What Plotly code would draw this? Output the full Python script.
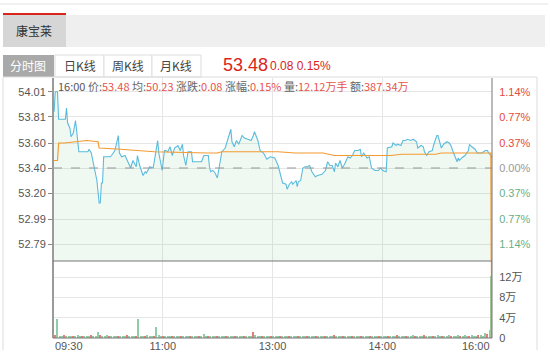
import plotly.graph_objects as go

# ---------------- data ----------------
stock_name = "康宝莱"
prev_close = 53.40
last_price = 53.48
change_abs = "0.08"
change_pct = "0.15%"
avg_last = "50.23"
vol_text = "12.12万手"
amt_text = "387.34万"

time_labels = ["09:30", "11:00", "13:00", "14:00", "16:00"]
price_tick_vals = [54.01, 53.81, 53.60, 53.40, 53.20, 52.99, 52.79]
price_tick_text = ["54.01", "53.81", "53.60", "53.40", "53.20", "52.99", "52.79"]
pct_tick_text = ["1.14%", "0.77%", "0.37%", "0.00%", "0.37%", "0.77%", "1.14%"]
vol_tick_vals = [0, 4, 8, 12]
vol_tick_text = ["0", "4万", "8万", "12万"]

price_t = [1, 2, 4, 5, 11, 12, 13, 15, 16, 18, 20, 21, 22, 23, 31, 32, 34, 36, 39, 41, 42, 43, 44, 45,
           51, 52, 55, 58, 59, 61, 64, 67, 69, 71, 74, 75, 77, 80, 82, 83, 86, 89, 91, 93, 94, 97, 99,
           100, 102, 104, 106, 108, 111, 113, 115, 116, 118, 120, 123, 124, 129, 132, 134, 138, 139, 140,
           142, 144, 146, 147, 150, 153, 155, 156, 158, 159, 161, 163, 165, 168, 170, 173, 176, 178, 179,
           182, 184, 187, 190, 193, 197, 200, 202, 204, 207, 208, 210, 212, 213, 216, 217, 218, 220, 222,
           224, 226, 228, 230, 233, 235, 239, 242, 244, 246, 248, 250, 251, 253, 255, 257, 259, 262, 264,
           266, 268, 271, 273, 274, 276, 279, 281, 283, 286, 289, 291, 293, 296, 297, 301, 302, 305, 306,
           309, 311, 313, 315, 318, 320, 323, 324, 327, 329, 330, 332, 334, 337, 338, 341, 342, 344, 345,
           347, 350, 352, 354, 355, 357, 359, 360, 361, 363, 366, 369, 370, 372, 375, 377, 381, 384, 386,
           387, 389, 390]
price_v = [53.85, 54.01, 54.01, 53.79, 53.79, 53.88, 53.76, 53.72, 53.65, 53.68, 53.78, 53.68, 53.61, 53.53,
           53.53, 53.55, 53.52, 53.42, 53.30, 53.12, 53.12, 53.28, 53.28, 53.49,
           53.49, 53.50, 53.54, 53.66, 53.52, 53.49, 53.50, 53.44, 53.40, 53.46, 53.41, 53.50, 53.42, 53.34,
           53.37, 53.36, 53.41, 53.40, 53.53, 53.62, 53.52, 53.38, 53.54,
           53.54, 53.53, 53.57, 53.50, 53.56, 53.58, 53.54, 53.59, 53.50, 53.42, 53.53, 53.53, 53.45, 53.45,
           53.45, 53.50, 53.50, 53.41, 53.37,
           53.38, 53.36, 53.32, 53.37, 53.53, 53.56, 53.62, 53.63, 53.71, 53.61, 53.57, 53.62, 53.59, 53.66,
           53.64, 53.63, 53.62, 53.66, 53.69,
           53.62, 53.54, 53.52, 53.47, 53.49, 53.48, 53.42, 53.34, 53.28, 53.27, 53.23, 53.27, 53.29, 53.27,
           53.30, 53.25, 53.29, 53.30, 53.40,
           53.41, 53.41, 53.42, 53.37, 53.33, 53.34, 53.35, 53.38, 53.45, 53.42, 53.42, 53.37, 53.44, 53.41,
           53.46, 53.40, 53.43, 53.49, 53.48,
           53.50, 53.54, 53.54, 53.55, 53.49, 53.52, 53.48, 53.49, 53.40, 53.38, 53.38, 53.40, 53.38, 53.37,
           53.56, 53.57, 53.60, 53.58, 53.59,
           53.58, 53.62, 53.62, 53.63, 53.62, 53.63, 53.61, 53.56, 53.58, 53.57, 53.53, 53.50, 53.53, 53.54,
           53.58, 53.66, 53.66, 53.58, 53.56,
           53.59, 53.61, 53.60, 53.57, 53.54, 53.50, 53.45, 53.48, 53.46, 53.48, 53.50, 53.54, 53.59, 53.57,
           53.55, 53.52, 53.52, 53.54, 53.54,
           53.52, 53.50, 53.48]

avg_t = [0, 4, 5, 10, 20, 30, 40, 41, 60, 77, 90, 137, 146, 150, 200, 215, 240, 250, 300, 310, 340, 345, 389, 390]
avg_v = [53.46, 53.46, 53.60, 53.60, 53.61, 53.62, 53.61, 53.56, 53.55, 53.54, 53.53, 53.52, 53.52, 53.53,
         53.53, 53.52, 53.52, 53.50, 53.50, 53.51, 53.51, 53.52, 53.52, 50.23]

vol_t = list(range(0, 390, 2)) + [389]
vol_v = [0.3, 0.5, 3.7, 0.4, 0.3, 0.5, 0.3, 0.4, 0.2, 0.4,
         0.3, 0.5, 0.3, 0.2, 0.4, 0.3, 0.3, 0.5, 0.4, 0.3,
         1.2, 0.6, 0.4, 0.3, 0.5, 0.3, 0.4, 0.3, 0.2, 0.4,
         0.3, 0.4, 0.3, 0.5, 0.3, 0.4, 0.3, 0.4, 3.8, 0.3,
         0.4, 0.3, 0.5, 0.3, 0.4, 0.3, 2.2, 0.5, 0.3, 0.2,
         0.4, 0.3, 0.3, 0.4, 0.2, 0.3, 0.4, 0.3, 0.3, 0.2,
         0.3, 0.4, 0.3, 0.2, 0.3, 0.4, 0.3, 0.8, 0.4, 0.3,
         0.3, 0.2, 0.4, 0.3, 0.3, 0.2, 0.3, 0.4, 0.3, 0.3,
         0.2, 0.3, 0.4, 0.3, 0.3, 0.2, 0.4, 0.3, 0.3, 1.1,
         0.5, 0.3, 0.4, 0.3, 0.2, 0.3, 0.3, 0.4, 0.3, 0.2,
         0.3, 0.3, 0.2, 0.4, 0.3, 0.3, 0.2, 0.3, 0.4, 0.3,
         0.3, 0.2, 0.3, 0.3, 0.4, 0.2, 0.3, 0.3, 0.2, 0.4,
         0.3, 0.3, 0.2, 0.3, 0.4, 0.5, 0.3, 0.2, 0.3, 0.3,
         0.4, 0.3, 0.2, 0.3, 0.3, 0.4, 0.3, 0.3, 0.2, 0.3,
         0.3, 0.4, 0.3, 0.2, 0.3, 0.3, 0.4, 0.3, 0.3, 0.2,
         0.4, 0.3, 0.3, 0.5, 0.3, 0.4, 0.3, 0.3, 0.4, 0.3,
         0.5, 0.3, 0.4, 0.3, 0.4, 0.5, 0.3, 0.4, 0.3, 0.4,
         0.3, 0.5, 0.4, 0.3, 0.4, 0.3, 0.5, 0.4, 0.3, 0.4,
         0.5, 0.3, 0.4, 0.6, 0.3, 0.4, 0.5, 0.4, 0.3, 0.5,
         0.6, 0.4, 0.9, 0.7, 1.5, 12.2]

# ---------------- styling / layout ----------------
W, H = 550, 356
L, R, T, B = 53, 492, 78, 338   # plot area in pixels
SPLIT = 261                      # divider between price and volume panes
X_MAX = 390

def PX(x):
    return (x - L) / (R - L)

def PY(y):
    return (B - y) / (B - T)

FONT = "Liberation Sans, Arial, Noto Sans CJK SC"
CJK = "Noto Sans CJK SC, Liberation Sans"
RED = "#e4493e"
GREEN = "#68b088"
GRID = "#e6e6e6"
NOCOL = "rgba(0,0,0,0)"

p_lo = prev_close - (SPLIT - 168) * 0.008
p_hi = prev_close + (168 - T) * 0.008
v_hi = 12 * (B - SPLIT) / (B - 277)
split_dom = PY(SPLIT)
tick_pos = [X_MAX / 4, X_MAX / 2, 3 * X_MAX / 4]

vol_colors = ["#ec7a72" if i % 4 == 1 else "#8fcda9" for i in range(len(vol_v))]

fig = go.Figure()
fig.add_trace(go.Scatter(x=price_t, y=price_v, mode="lines", line=dict(color="#5bbbdd", width=1.1),
                         fill="tozeroy", fillcolor="rgba(120,190,140,0.11)", xaxis="x", yaxis="y",
                         hoverinfo="skip"))
fig.add_trace(go.Scatter(x=avg_t, y=avg_v, mode="lines", line=dict(color="#f39a30", width=1.2),
                         xaxis="x", yaxis="y", hoverinfo="skip"))
fig.add_trace(go.Bar(x=vol_t, y=vol_v, marker=dict(color=vol_colors, line=dict(width=0)), width=1.3,
                     xaxis="x2", yaxis="y2", hoverinfo="skip"))
# invisible trace to activate right percentage axis
fig.add_trace(go.Scatter(x=[price_t[0]], y=[price_v[0]], mode="lines", line=dict(width=0),
                         xaxis="x", yaxis="y3", hoverinfo="skip", showlegend=False))

pct_colored = []
for i, t in enumerate(pct_tick_text):
    v = price_tick_vals[i]
    c = RED if v > prev_close else ("#999999" if v == prev_close else GREEN)
    pct_colored.append(f'<span style="color:{c}">{t}</span>')

fig.update_layout(
    width=W, height=H, showlegend=False, bargap=0,
    paper_bgcolor="white", plot_bgcolor="white",
    margin=dict(l=L, r=W - R, t=T, b=H - B, pad=0, autoexpand=False),
    font=dict(family=FONT, size=11, color="#555"),
    xaxis=dict(domain=[0, 1], anchor="y", range=[0, X_MAX], tickvals=tick_pos, showticklabels=False,
               showgrid=True, gridcolor=GRID, gridwidth=1, zeroline=False, showline=False, ticks="",
               automargin=False),
    yaxis=dict(domain=[split_dom, 1], anchor="x", range=[p_lo, p_hi], tickvals=price_tick_vals,
               ticktext=price_tick_text, ticks="outside", ticklen=4, tickcolor="#888",
               showgrid=True, gridcolor=GRID, zeroline=False, showline=False, automargin=False,
               tickfont=dict(size=11, color="#555")),
    yaxis3=dict(overlaying="y", side="right", anchor="x", range=[p_lo, p_hi], tickvals=price_tick_vals,
                ticktext=pct_colored, showgrid=False, zeroline=False, showline=False,
                ticks="outside", ticklen=4, tickcolor=NOCOL,
                automargin=False, tickfont=dict(size=11)),
    xaxis2=dict(domain=[0, 1], anchor="y2", range=[0, X_MAX], tickvals=tick_pos,
                ticktext=time_labels[1:4], showgrid=True, gridcolor=GRID, zeroline=False, showline=False,
                ticks="", automargin=False, tickfont=dict(size=11, color="#555")),
    yaxis2=dict(domain=[0, split_dom], anchor="x2", side="right", range=[0, v_hi], tickvals=vol_tick_vals,
                ticktext=vol_tick_text, showgrid=True, gridcolor=GRID, zeroline=False, showline=False,
                ticks="outside", ticklen=4, tickcolor=NOCOL,
                automargin=False, tickfont=dict(size=11, color="#555")),
)

shapes = []
# header decorations
shapes.append(dict(type="line", xref="paper", yref="paper", x0=PX(0), x1=PX(548), y0=PY(4), y1=PY(4),
                   line=dict(color="#e3e3e3", width=1)))
shapes.append(dict(type="rect", xref="paper", yref="paper", x0=PX(66), x1=PX(545), y0=PY(47), y1=PY(15),
                   fillcolor="#efefef", line=dict(width=0)))
shapes.append(dict(type="rect", xref="paper", yref="paper", x0=PX(3), x1=PX(66), y0=PY(47), y1=PY(15),
                   fillcolor="#d6d6d6", line=dict(width=0)))
shapes.append(dict(type="rect", xref="paper", yref="paper", x0=PX(3), x1=PX(66), y0=PY(15), y1=PY(13),
                   fillcolor="#d9251c", line=dict(width=0)))
# buttons
shapes.append(dict(type="rect", xref="paper", yref="paper", x0=PX(3), x1=PX(54), y0=PY(77), y1=PY(55),
                   fillcolor="#a9a9a9", line=dict(width=0)))
for bx0, bx1 in [(55, 104), (104, 152), (152, 201)]:
    shapes.append(dict(type="rect", xref="paper", yref="paper", x0=PX(bx0), x1=PX(bx1), y0=PY(77), y1=PY(55),
                       fillcolor="white", line=dict(color="#dddddd", width=1)))
# outer frame
shapes.append(dict(type="line", xref="paper", yref="paper", x0=PX(3), x1=PX(537), y0=PY(77), y1=PY(77),
                   line=dict(color="#dddddd", width=1)))
shapes.append(dict(type="line", xref="paper", yref="paper", x0=PX(3), x1=PX(3), y0=PY(77), y1=PY(350),
                   line=dict(color="#dddddd", width=1)))
shapes.append(dict(type="line", xref="paper", yref="paper", x0=PX(537), x1=PX(537), y0=PY(77), y1=PY(350),
                   line=dict(color="#dddddd", width=1)))
# previous close dashed line
shapes.append(dict(type="line", xref="x", yref="y", x0=0, x1=X_MAX, y0=prev_close, y1=prev_close,
                   line=dict(color="#999999", width=1, dash="dash")))
# average line continues into volume pane at last point
shapes.append(dict(type="line", xref="x2", yref="y2 domain", x0=avg_t[-1] - 0.5, x1=avg_t[-1] - 0.5,
                   y0=0, y1=1, line=dict(color="#f39a30", width=1.2)))
# axis frame lines
shapes.append(dict(type="line", xref="paper", yref="paper", x0=0, x1=0, y0=0, y1=1,
                   line=dict(color="#9a9a9a", width=2)))
shapes.append(dict(type="line", xref="paper", yref="paper", x0=1, x1=1, y0=0, y1=1,
                   line=dict(color="#777777", width=1)))
shapes.append(dict(type="line", xref="paper", yref="paper", x0=0, x1=1, y0=split_dom, y1=split_dom,
                   line=dict(color="#777777", width=1)))
shapes.append(dict(type="line", xref="paper", yref="paper", x0=0, x1=1, y0=0, y1=0,
                   line=dict(color="#777777", width=1)))
fig.update_layout(shapes=shapes)

lab = "#666666"
val = "#e8534a"
info = (f'<span style="color:#555">16:00 </span>'
        f'<span style="color:{lab}">价:</span><span style="color:{val}">{last_price:.2f} </span>'
        f'<span style="color:{lab}">均:</span><span style="color:{val}">{avg_last} </span>'
        f'<span style="color:{lab}">涨跌:</span><span style="color:{val}">{change_abs} </span>'
        f'<span style="color:{lab}">涨幅:</span><span style="color:{val}">{change_pct} </span>'
        f'<span style="color:{lab}">量:</span><span style="color:{val}">{vol_text} </span>'
        f'<span style="color:{lab}">额:</span><span style="color:{val}">{amt_text}</span>')

ann = [
    dict(text=stock_name, x=PX(34), y=PY(31), font=dict(family=CJK, size=12, color="#333")),
    dict(text="分时图", x=PX(28), y=PY(66), font=dict(family=CJK, size=12, color="white")),
    dict(text="日K线", x=PX(80), y=PY(66), font=dict(family=CJK, size=12, color="#444")),
    dict(text="周K线", x=PX(128), y=PY(66), font=dict(family=CJK, size=12, color="#444")),
    dict(text="月K线", x=PX(176), y=PY(66), font=dict(family=CJK, size=12, color="#444")),
    dict(text=f"{last_price:.2f}", x=PX(221), y=PY(65), xanchor="left",
         font=dict(family=FONT, size=18, color="#d9251c")),
    dict(text=f"{change_abs} {change_pct}", x=PX(268), y=PY(66), xanchor="left",
         font=dict(family=FONT, size=12, color="#d9251c")),
    dict(text=info, x=PX(56), y=PY(86), xanchor="left", font=dict(family=CJK, size=11)),
    dict(text=time_labels[0], xref="x2", x=0, y=PY(346), xanchor="left",
         font=dict(family=FONT, size=11, color="#555")),
    dict(text=time_labels[-1], xref="x2", x=X_MAX, y=PY(346), xanchor="right",
         font=dict(family=FONT, size=11, color="#555")),
]
for a in ann:
    a.setdefault("xref", "paper")
    a.setdefault("yref", "paper")
    a.setdefault("xanchor", "center")
    a["yanchor"] = "middle"
    a["showarrow"] = False
fig.update_layout(annotations=ann)

fig.write_html("out.html", config={"displayModeBar": False},
               post_script="document.body.style.margin='0';document.body.style.overflow='hidden';")
